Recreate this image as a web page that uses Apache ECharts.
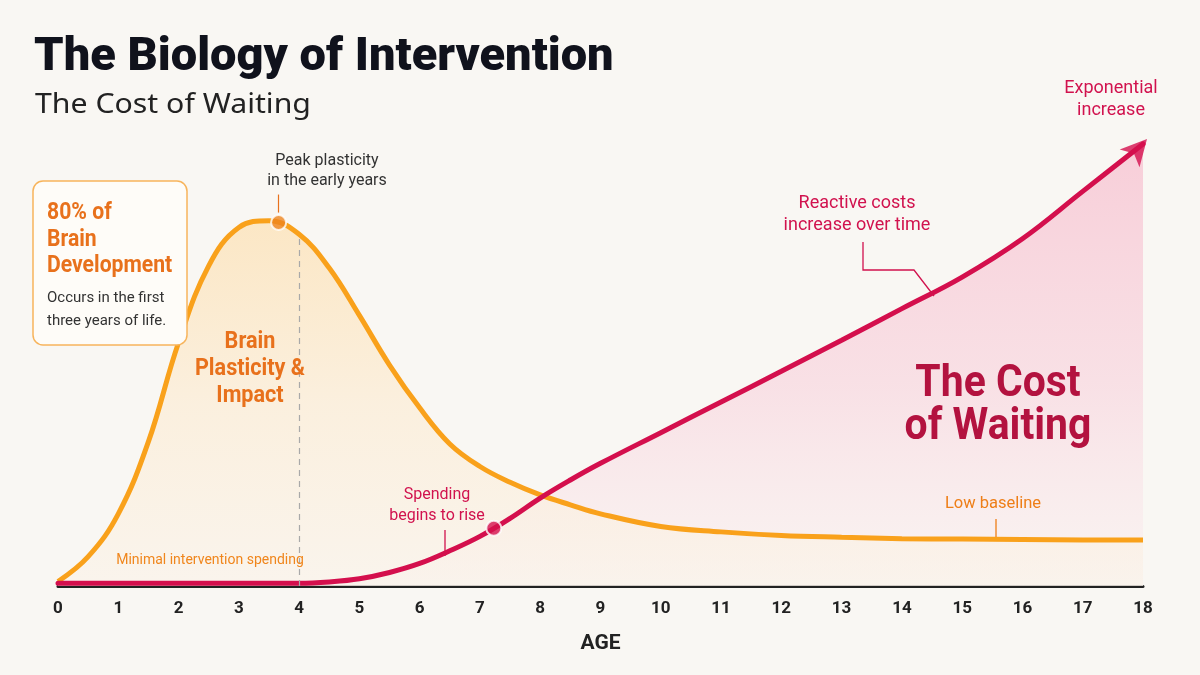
<!DOCTYPE html>
<html>
<head>
<meta charset="utf-8">
<script src="https://cdn.jsdelivr.net/npm/echarts@6/dist/echarts.min.js"></script>
<style>html,body{margin:0;padding:0;background:#F9F7F3;}#c{width:1200px;height:675px;}</style>
</head>
<body>
<div id="c"></div>
<script>
// ---- data ----
const ages        = [0,0.5,1,1.5,2,2.5,3,3.5,4,4.5,5,5.5,6,6.5,7,7.5,8,8.5,9,10,11,12,13,14,15,16,17,18];
const plasticity  = [1,6.5,16,32,54,71,79.5,81,78,70.5,60,49,39.5,31.5,26.5,23,20.2,18,16,13.2,12,11.2,10.8,10.5,10.4,10.3,10.2,10.2];
const spending    = [0.6,0.6,0.6,0.6,0.6,0.6,0.6,0.6,0.6,0.9,1.6,3,5,7.8,11,15,19.5,23.5,27.2,34,40.8,47.6,54.5,61.5,68.5,77,87.5,98];
const ageTicks    = [0,1,2,3,4,5,6,7,8,9,10,11,12,13,14,15,16,17,18];
const peakPoint   = [3.66, 80.6];
const risePoint   = [7.23, 12.8];
const arrowPoint  = [18, 98];
const dashedAge   = 4;

const plastData = ages.map((a,i)=>[a, plasticity[i]]);
const spendData = ages.map((a,i)=>[a, spending[i]]);

const FONT = "'Roboto', sans-serif";
const ORANGE_TXT = '#E8711C';
const RED_TXT = '#D1124E';

function txt(x, y, text, size, color, weight, align, sx, family) {
  return { type:'text', x:x, y:y, z:20, scaleX: sx || 1,
    style:{ text:text, fill:color, font:(weight||'normal')+' '+size+'px '+(family||FONT),
            textAlign:align||'center', textVerticalAlign:'middle' } };
}

const chart = echarts.init(document.getElementById('c'), null, {renderer:'canvas'});
chart.setOption({
  backgroundColor:'#F9F7F3',
  animation:false,
  title:[
    {text:'The Biology of Intervention', left:29, top:30,
     textStyle:{fontFamily:'Roboto', fontWeight:900, fontSize:47, color:'#10121C'}}
  ],
  grid:{left:58, right:57, top:135, bottom:89},
  xAxis:{type:'value', min:0, max:18, interval:1,
    name:'AGE', nameLocation:'middle', nameGap:47,
    nameTextStyle:{fontFamily:FONT, fontWeight:'bold', fontSize:21, color:'#222'},
    axisLine:{show:true, lineStyle:{color:'#222', width:3}},
    axisTick:{show:false}, splitLine:{show:false},
    axisLabel:{margin:14, fontFamily:FONT, fontWeight:'bold', fontSize:17, color:'#222',
      formatter:(v)=> ageTicks.includes(v) ? String(v) : ''}
  },
  yAxis:{type:'value', min:0, max:100, show:false},
  series:[
    { // pink area under spending
      type:'line', data:spendData, smooth:0.4, symbol:'none', z:1,
      lineStyle:{width:0},
      areaStyle:{color:new echarts.graphic.LinearGradient(0,0,0,1,[
        {offset:0, color:'rgba(247,185,203,0.95)'},
        {offset:0.55, color:'rgba(248,204,217,0.75)'},
        {offset:1, color:'rgba(250,236,238,0.5)'}])}
    },
    { // brain plasticity
      type:'line', data:plastData, smooth:0.4, symbol:'none', z:2,
      lineStyle:{color:'#F9A11B', width:5},
      areaStyle:{color:new echarts.graphic.LinearGradient(0,0,0,1,[
        {offset:0, color:'rgba(253,222,172,0.92)'},
        {offset:0.5, color:'rgba(252,236,212,0.97)'},
        {offset:1, color:'rgba(250,243,234,1)'}])},
      markLine:{silent:true, symbol:'none', label:{show:false},
        data:[
          [{coord:[dashedAge,0], lineStyle:{type:[6,5], color:'#A9A9A9', width:1.2}},{coord:[dashedAge,77.4]}],
          [{coord:[peakPoint[0],82.8], lineStyle:{type:'solid', color:'#E8711C', width:1.2}},{coord:[peakPoint[0],86.8]}]
        ]}
    },
    { // reactive spending line
      type:'line', data:spendData, smooth:0.4, symbol:'none', z:3,
      lineStyle:{color:'#D40F4D', width:5, cap:'round'}
    },
    { type:'scatter', data:[peakPoint], symbolSize:15, z:5,
      itemStyle:{color:'#EE841E', borderColor:'#fff', borderWidth:2} },
    { type:'scatter', data:[risePoint], symbolSize:15, z:5,
      itemStyle:{color:'#D40F4D', borderColor:'#fff', borderWidth:2} },
    { type:'scatter', data:[arrowPoint], symbol:'arrow', symbolSize:[20,26], symbolRotate:-42,
      symbolOffset:[4,-5], z:5, itemStyle:{color:'#D40F4D'} }
  ],
  graphic:[
    txt(35,105,'The Cost of Waiting',28,'#222',null,'left',1.08,"'Noto Sans', 'Open Sans', sans-serif"),
    {type:'rect', z:10, shape:{x:33, y:181, width:154, height:164, r:10},
     style:{fill:'#FEFCF8', stroke:'#F7B45C', lineWidth:1.5}},
    txt(47,213,'80% of',23,ORANGE_TXT,'bold','left',0.92),
    txt(47,240,'Brain',23,ORANGE_TXT,'bold','left',0.92),
    txt(47,266,'Development',23,ORANGE_TXT,'bold','left',0.92),
    txt(47,298,'Occurs in the first',15,'#333',null,'left'),
    txt(47,321,'three years of life.',15,'#333',null,'left'),
    txt(327,161,'Peak plasticity',16,'#333'),
    txt(327,181,'in the early years',16,'#333'),
    txt(250,342,'Brain',23,ORANGE_TXT,'bold',null,0.94),
    txt(250,369,'Plasticity &',23,ORANGE_TXT,'bold',null,0.94),
    txt(250,396,'Impact',23,ORANGE_TXT,'bold',null,0.94),
    txt(210,560,'Minimal intervention spending',14,'#F0861C'),
    txt(437,495,'Spending',16,RED_TXT),
    txt(437,516,'begins to rise',16,RED_TXT),
    {type:'line', z:20, shape:{x1:445,y1:530,x2:445,y2:556}, style:{stroke:RED_TXT, lineWidth:1.3}},
    txt(993,504,'Low baseline',16.5,'#EE7E17'),
    {type:'line', z:20, shape:{x1:996,y1:519,x2:996,y2:537}, style:{stroke:'#EE7E17', lineWidth:1.3}},
    txt(998,385,'The Cost',44,'#B3123F','bold',null,0.93),
    txt(998,428,'of Waiting',44,'#B3123F','bold',null,0.93),
    txt(857,203,'Reactive costs',18,RED_TXT),
    txt(857,225,'increase over time',18,RED_TXT),
    {type:'polyline', z:20, shape:{points:[[863,242],[863,270],[914,270],[934,296]]},
     style:{stroke:RED_TXT, lineWidth:1.3, fill:null}},
    txt(1111,88,'Exponential',18,RED_TXT),
    txt(1111,110,'increase',18,RED_TXT)
  ]
});
</script>
</body>
</html>
